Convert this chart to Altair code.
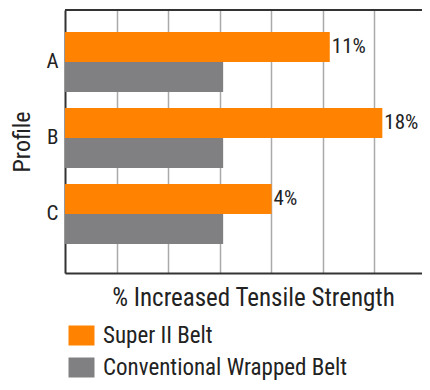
import altair as alt
import pandas as pd

profiles = ["A", "B", "C"]
series = ["Super II Belt", "Conventional Wrapped Belt"]
colors = ["#FF8200", "#808083"]
super_len = [5.14, 6.16, 4.01]
conv_len = [3.07, 3.07, 3.07]
super_labels = ["11%", "18%", "4%"]
grid_vals = [1, 2, 3, 4, 5, 6]

rows = []
for p, s, c, lab in zip(profiles, super_len, conv_len, super_labels):
    rows.append({"Profile": p, "Belt": series[0], "value": s, "label": lab})
    rows.append({"Profile": p, "Belt": series[1], "value": c, "label": ""})
df = pd.DataFrame(rows)

W, H = 357, 263
FONT = "Roboto Condensed, Liberation Sans Narrow, DejaVu Sans Condensed, sans-serif"

y_enc = alt.Y("Profile:N", sort=profiles,
              scale=alt.Scale(paddingInner=0.21, paddingOuter=0.335, align=0.43),
              axis=alt.Axis(title="Profile", ticks=False, labelPadding=7, labelFontSize=21,
                            labelColor="#222", titleFontSize=24, titleColor="#222",
                            titleFontWeight="normal", titlePadding=11,
                            domainColor="#333", domainWidth=2, labelFont=FONT, titleFont=FONT))
yoff = alt.YOffset("Belt:N", sort=series, scale=alt.Scale(paddingInner=0, paddingOuter=0))
x_enc = alt.X("value:Q", scale=alt.Scale(domain=[0, 6.93], nice=False, zero=True),
              axis=alt.Axis(title="% Increased Tensile Strength", values=grid_vals, labels=False,
                            ticks=False, grid=True, gridColor="#aaaaaa", gridWidth=1.5,
                            domainColor="#333", domainWidth=2, titleFontSize=25,
                            titleColor="#222", titleFontWeight="normal", titlePadding=12,
                            titleFont=FONT, titleX=188))

bars = alt.Chart(df).mark_bar().encode(
    x=x_enc, y=y_enc, yOffset=yoff,
    color=alt.Color("Belt:N", sort=series, scale=alt.Scale(domain=series, range=colors),
                    legend=alt.Legend(title=None, orient="none", legendX=5, legendY=314,
                                      symbolType="M-1.3,-1H1.3V1H-1.3Z", symbolSize=400,
                                      symbolStrokeWidth=0, symbolOpacity=1,
                                      labelFontSize=23, labelColor="#222", labelFont=FONT,
                                      labelLimit=0, labelOffset=10, rowPadding=8, padding=0)),
)

texts = alt.Chart(df).transform_filter("datum.label != ''").mark_text(
    align="left", baseline="middle", dx=2, fontSize=21, color="#222", font=FONT
).encode(x="value:Q", y=alt.Y("Profile:N", sort=profiles), yOffset=alt.YOffset("Belt:N", sort=series), text="label:N")

top = alt.Chart(df).mark_rule(color="#333", strokeWidth=2).encode(
    y=alt.value(0), x=alt.value(0), x2=alt.value(W))

chart = alt.layer(bars, texts, top).properties(
    width=W, height=H,
    autosize=alt.AutoSizeParams(type="none"),
    padding={"left": 57, "top": 2, "right": 0, "bottom": 109},
).configure_view(stroke=None).configure(font=FONT)

chart.save("out.html", embed_options={"renderer": "svg", "actions": False})
